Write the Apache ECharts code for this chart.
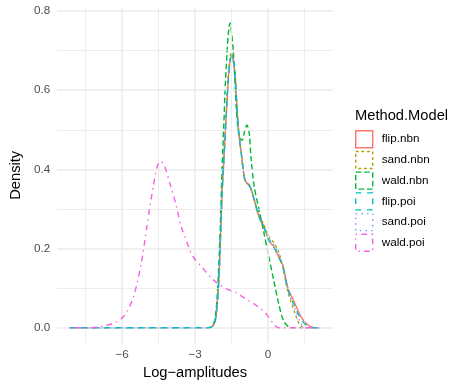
<!DOCTYPE html>
<html>
<head>
<meta charset="utf-8">
<script src="https://cdn.jsdelivr.net/npm/echarts@6/dist/echarts.min.js"></script>
<style>html,body{margin:0;padding:0;background:#fff}#c{width:456px;height:386px}</style>
</head>
<body>
<div id="c"></div>
<script>
// ---- data ----
const seriesNames = ['flip.nbn','sand.nbn','wald.nbn','flip.poi','sand.poi','wald.poi'];
const xTicks = [-6, -3, 0];
const yTicks = [0, 0.2, 0.4, 0.6, 0.8];
const xMinorTicks = [-7.5, -4.5, -1.5, 1.5];
const yMinorTicks = [0.1, 0.3, 0.5, 0.7];

const flipNbn = [[-8.15,0],[-2.45,0],[-2.35,0.001],[-2.25,0.006],[-2.16,0.022],[-2.1,0.055],[-2.03,0.113],[-1.96,0.22],[-1.89,0.34],[-1.82,0.42],[-1.76,0.49],[-1.69,0.57],[-1.63,0.63],[-1.56,0.675],[-1.5,0.689],[-1.43,0.675],[-1.36,0.643],[-1.3,0.58],[-1.23,0.51],[-1.16,0.47],[-1.1,0.44],[-0.97,0.378],[-0.87,0.365],[-0.77,0.361],[-0.67,0.345],[-0.57,0.323],[-0.37,0.28],[-0.17,0.255],[0.03,0.222],[0.13,0.212],[0.23,0.205],[0.43,0.18],[0.62,0.155],[0.82,0.1],[1.09,0.063],[1.35,0.028],[1.55,0.012],[1.75,0.003],[1.95,0],[2.15,0]];
const sandNbn = [[-8.15,0],[-2.45,0],[-2.35,0.001],[-2.25,0.006],[-2.16,0.022],[-2.1,0.055],[-2.03,0.113],[-1.96,0.22],[-1.89,0.34],[-1.82,0.42],[-1.76,0.49],[-1.69,0.575],[-1.63,0.64],[-1.56,0.685],[-1.5,0.695],[-1.43,0.678],[-1.36,0.643],[-1.3,0.58],[-1.23,0.51],[-1.16,0.47],[-1.1,0.44],[-0.97,0.378],[-0.87,0.365],[-0.77,0.36],[-0.67,0.345],[-0.57,0.325],[-0.37,0.285],[-0.17,0.26],[0.03,0.23],[0.13,0.222],[0.23,0.215],[0.43,0.192],[0.62,0.15],[0.82,0.09],[1.09,0.04],[1.22,0.018],[1.35,0.004],[1.5,0],[2.15,0]];
const waldNbn = [[-8.15,0],[-2.45,0],[-2.35,0.002],[-2.25,0.008],[-2.16,0.03],[-2.08,0.09],[-2.03,0.15],[-1.96,0.26],[-1.89,0.4],[-1.82,0.51],[-1.76,0.61],[-1.69,0.69],[-1.63,0.745],[-1.56,0.77],[-1.5,0.745],[-1.43,0.7],[-1.36,0.62],[-1.3,0.55],[-1.23,0.5],[-1.16,0.478],[-1.06,0.474],[-0.97,0.495],[-0.87,0.512],[-0.77,0.49],[-0.7,0.43],[-0.57,0.357],[-0.37,0.298],[-0.17,0.24],[0.03,0.18],[0.23,0.121],[0.43,0.063],[0.62,0.02],[0.82,0.003],[1.0,0],[2.15,0]];
const flipPoi = [[-8.15,0],[-2.45,0],[-2.35,0.001],[-2.25,0.006],[-2.16,0.022],[-2.1,0.055],[-2.03,0.113],[-1.96,0.22],[-1.89,0.34],[-1.82,0.42],[-1.76,0.49],[-1.69,0.57],[-1.63,0.63],[-1.56,0.672],[-1.5,0.686],[-1.43,0.675],[-1.36,0.643],[-1.3,0.58],[-1.23,0.51],[-1.16,0.47],[-1.1,0.44],[-0.97,0.378],[-0.87,0.365],[-0.77,0.358],[-0.67,0.343],[-0.57,0.322],[-0.37,0.28],[-0.17,0.252],[0.03,0.222],[0.13,0.214],[0.23,0.205],[0.43,0.18],[0.62,0.15],[0.82,0.095],[1.09,0.055],[1.35,0.022],[1.6,0.005],[1.85,0],[2.15,0]];
const sandPoi = [[-8.15,0],[-2.45,0],[-2.35,0.001],[-2.25,0.006],[-2.16,0.022],[-2.1,0.055],[-2.03,0.113],[-1.96,0.22],[-1.89,0.34],[-1.82,0.42],[-1.76,0.49],[-1.69,0.57],[-1.63,0.635],[-1.56,0.68],[-1.5,0.69],[-1.43,0.675],[-1.36,0.643],[-1.3,0.58],[-1.23,0.51],[-1.16,0.47],[-1.1,0.44],[-0.97,0.378],[-0.87,0.365],[-0.77,0.36],[-0.67,0.345],[-0.57,0.324],[-0.37,0.283],[-0.17,0.257],[0.03,0.225],[0.13,0.217],[0.23,0.21],[0.43,0.187],[0.62,0.155],[0.82,0.095],[1.09,0.05],[1.35,0.012],[1.55,0],[2.15,0]];
const waldPoi = [[-8.15,0],[-7.3,0],[-6.86,0.003],[-6.33,0.012],[-5.93,0.029],[-5.55,0.075],[-5.22,0.16],[-4.97,0.26],[-4.72,0.357],[-4.55,0.408],[-4.42,0.42],[-4.28,0.412],[-4.0,0.357],[-3.78,0.31],[-3.57,0.256],[-3.3,0.21],[-3.09,0.18],[-2.69,0.151],[-2.4,0.13],[-2.09,0.113],[-1.7,0.098],[-1.3,0.088],[-0.9,0.072],[-0.64,0.063],[-0.3,0.048],[-0.11,0.038],[0.16,0.015],[0.43,0],[2.15,0]];

const seriesData = [flipNbn, sandNbn, waldNbn, flipPoi, sandPoi, waldPoi];
const colors = ['#F8766D','#B79F00','#00BA38','#00BFC4','#619CFF','#F564E3'];
const lw = 1.42;
const dashes = ['solid',[2*lw,2*lw],[4*lw,2*lw],[4*lw,4*lw],[1*lw,3*lw],[1*lw,3*lw,4*lw,3*lw]];

const font = '"Liberation Sans", Arial, Helvetica, sans-serif';
const chart = echarts.init(document.getElementById('c'), null, {renderer:'canvas'});

const gridSeries = {
  type:'line', name:'_grid', data:[], silent:true, z:0,
  markLine:{
    silent:true, symbol:['none','none'], label:{show:false}, animation:false,
    emphasis:{disabled:true},
    data:[
      ...xMinorTicks.map(v=>({xAxis:v, lineStyle:{color:'#EBEBEB', width:0.9, type:'solid'}})),
      ...yMinorTicks.map(v=>({yAxis:v, lineStyle:{color:'#EBEBEB', width:0.9, type:'solid'}})),
      ...xTicks.map(v=>({xAxis:v, lineStyle:{color:'#EBEBEB', width:1.6, type:'solid'}})),
      ...yTicks.map(v=>({yAxis:v, lineStyle:{color:'#EBEBEB', width:1.6, type:'solid'}}))
    ]
  }
};

const option = {
  animation:false,
  backgroundColor:'#fff',
  textStyle:{fontFamily:font},
  title:{text:'Method.Model', left:355, top:108.5, padding:0,
    textStyle:{fontFamily:font, fontSize:14.7, fontWeight:'normal', color:'#000'}},
  legend:{
    orient:'vertical', left:355, top:130, padding:0,
    itemWidth:17, itemHeight:17, itemGap:2.3,
    selectedMode:false,
    textStyle:{fontFamily:font, fontSize:11.7, color:'#000', padding:[0,0,0,4]},
    data: seriesNames.map((n,i)=>({name:n, icon:'rect',
      itemStyle:{color:'rgba(0,0,0,0)', borderColor:colors[i], borderWidth:lw, borderType:dashes[i], opacity:1}}))
  },
  grid:{left:48, right:123, top:7.6, bottom:43, containLabel:false},
  xAxis:{
    type:'value', min:-8.67, max:2.67,
    name:'Log\u2212amplitudes', nameLocation:'middle', nameGap:20,
    nameTextStyle:{fontFamily:font, fontSize:14.7, color:'#000'},
    axisLine:{show:false}, axisTick:{show:false}, splitLine:{show:false},
    axisLabel:{customValues:xTicks, margin:6, fontFamily:font, fontSize:11.7, color:'#4D4D4D',
      formatter:v=>(v<0?'\u2212'+Math.abs(v):String(v))}
  },
  yAxis:{
    type:'value', min:-0.0385, max:0.8085,
    name:'Density', nameLocation:'middle', nameGap:29.5,
    nameTextStyle:{fontFamily:font, fontSize:14.7, color:'#000'},
    axisLine:{show:false}, axisTick:{show:false}, splitLine:{show:false},
    axisLabel:{customValues:yTicks, margin:7, fontFamily:font, fontSize:11.7, color:'#4D4D4D',
      formatter:v=>v.toFixed(1)}
  },
  series:[gridSeries, ...seriesNames.map((n,i)=>({
    type:'line', name:n, data:seriesData[i], showSymbol:false, symbol:'none',
    smooth:0.3, z:2+i, color:colors[i],
    lineStyle:{color:colors[i], width:lw, type:dashes[i]},
    emphasis:{disabled:true}
  }))]
};
chart.setOption(option);
</script>
</body>
</html>
